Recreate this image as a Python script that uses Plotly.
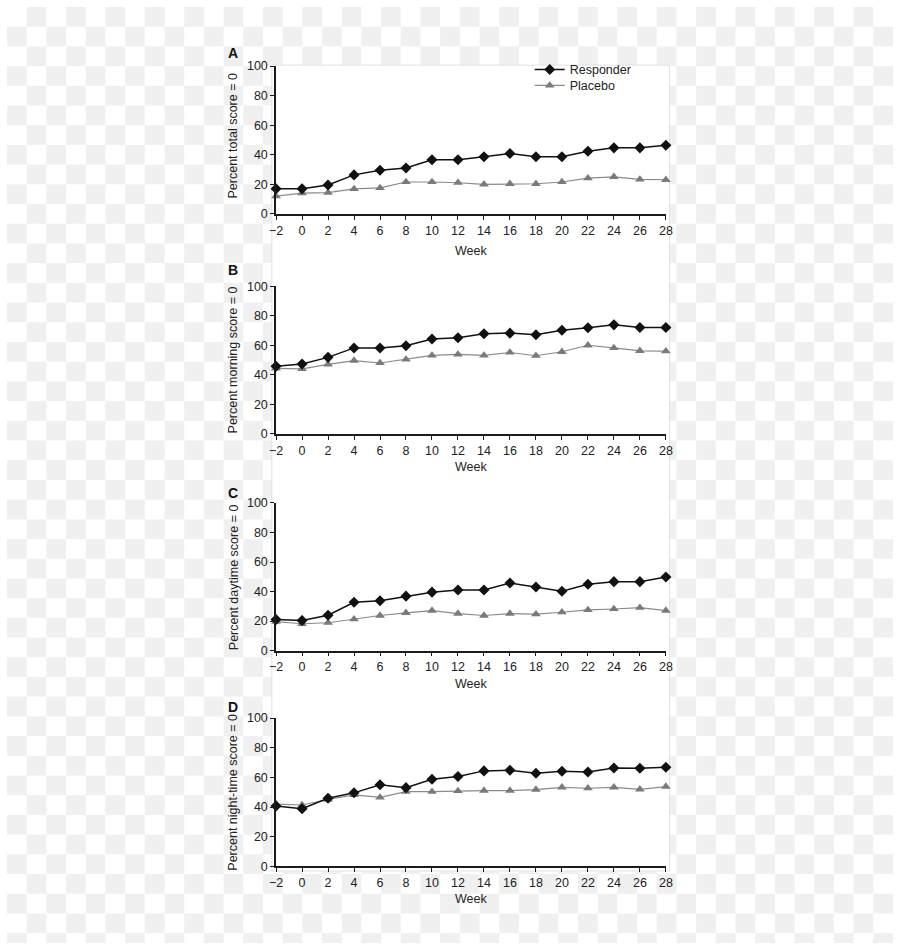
import base64
import plotly.graph_objects as go

# ---------------- data ----------------
weeks = [-2, 0, 2, 4, 6, 8, 10, 12, 14, 16, 18, 20, 22, 24, 26, 28]

total_responder = [17, 17, 19.6, 26.4, 29.6, 31.1, 36.7, 36.7, 38.7, 40.9, 38.7, 38.7, 42.4, 44.7, 44.7, 46.4]
total_placebo = [12, 14, 14.4, 16.9, 17.6, 21.6, 21.6, 21.1, 20, 20.4, 20.4, 21.6, 24.2, 25.1, 23.3, 23.1]

morning_responder = [45.8, 47.3, 51.8, 58.2, 58.2, 59.6, 64.2, 65.1, 67.8, 68.2, 67.1, 70.2, 71.8, 73.8, 72, 72]
morning_placebo = [44.4, 44, 47.1, 49.6, 48, 50.4, 53.1, 53.8, 53.1, 55.1, 52.9, 55.6, 60, 58.2, 56.2, 56]

daytime_responder = [21.1, 20.4, 24, 32.7, 33.8, 36.9, 39.6, 41.1, 41.1, 45.8, 43.1, 40.2, 44.9, 46.7, 46.7, 49.8]
daytime_placebo = [19.6, 18.2, 18.9, 21.3, 23.8, 25.6, 27.1, 25.1, 23.8, 25.1, 24.7, 26, 27.6, 28.2, 29.1, 27.1]

night_responder = [40.7, 38.9, 46, 49.6, 55.1, 53.1, 58.8, 60.6, 64.4, 64.8, 62.8, 64.2, 63.7, 66.4, 66.2, 66.8]
night_placebo = [42, 41.4, 45.1, 48.2, 46.5, 50.4, 50.4, 50.9, 51.1, 51.1, 51.8, 53.3, 52.7, 53.3, 52, 53.8]

panel_letters = ["A", "B", "C", "D"]
y_titles = ["Percent total score = 0", "Percent morning score = 0",
            "Percent daytime score = 0", "Percent night-time score = 0"]
series_names = ["Responder", "Placebo"]
x_title = "Week"

panels = [
    (total_responder, total_placebo),
    (morning_responder, morning_placebo),
    (daytime_responder, daytime_placebo),
    (night_responder, night_placebo),
]

# ---------------- layout geometry (pixels) ----------------
W, H = 900, 950
x_left, x_right = 273.3, 669.3
panel_px = [(60, 210), (283.3, 433.3), (503.3, 653.3), (721.7, 872.3)]  # (top, bottom)
week_y = [248, 467, 687, 905.7]
letter_y = [47, 267, 493, 710]

def px_x(p):
    return p / W

def px_y(p):
    return 1 - p / H

FONT = "Liberation Sans, Arial, Helvetica, sans-serif"
AX = "#1a1a1a"

fig = go.Figure()

for i, (resp, plac) in enumerate(panels):
    sfx = "" if i == 0 else str(i + 1)
    xa, ya = "x" + sfx, "y" + sfx
    fig.add_trace(go.Scatter(
        x=weeks, y=plac, mode="lines+markers", name=series_names[1],
        xaxis=xa, yaxis=ya, showlegend=(i == 0), legend="legend2",
        line=dict(color="#8a8a8a", width=1.2),
        marker=dict(symbol="triangle-up", size=8.5, color="#7a7a7a"),
        cliponaxis=False,
    ))
    fig.add_trace(go.Scatter(
        x=weeks, y=resp, mode="lines+markers", name=series_names[0],
        xaxis=xa, yaxis=ya, showlegend=(i == 0), legend="legend",
        line=dict(color="#111111", width=1.5),
        marker=dict(symbol="diamond", size=8.5, color="#111111"),
        cliponaxis=False,
    ))

    top, bot = panel_px[i]
    fig.update_layout(**{
        "xaxis" + sfx: dict(
            domain=[px_x(x_left), px_x(x_right)], anchor=ya,
            range=[-2, 28], tick0=-2, dtick=2, showgrid=False, zeroline=False,
            showline=True, linecolor=AX, linewidth=1.5,
            ticks="outside", ticklen=4, tickwidth=1.2, tickcolor=AX,
            tickfont=dict(family=FONT, size=12.5, color="#222"),
            fixedrange=True,
        ),
        "yaxis" + sfx: dict(
            domain=[px_y(bot), px_y(top)], anchor=xa,
            range=[0, 100], tick0=0, dtick=20, showgrid=False, zeroline=False,
            showline=True, linecolor=AX, linewidth=1.5,
            ticks="outside", ticklen=4, tickwidth=1.2, tickcolor=AX,
            tickfont=dict(family=FONT, size=12.5, color="#222"),
            fixedrange=True,
        ),
    })

    fig.add_annotation(text=y_titles[i], xref="paper", yref="paper",
                       x=px_x(230), y=px_y((top + bot) / 2 - (4 if i == 0 else 0)),
                       textangle=-90, showarrow=False,
                       font=dict(family=FONT, size=12.5, color="#222"),
                       xanchor="center", yanchor="middle")
    fig.add_annotation(text=x_title, xref="paper", yref="paper",
                       x=px_x((x_left + x_right) / 2), y=px_y(week_y[i]),
                       showarrow=False, font=dict(family=FONT, size=12.5, color="#222"),
                       xanchor="center", yanchor="middle")
    fig.add_annotation(text="<b>" + panel_letters[i] + "</b>", xref="paper", yref="paper",
                       x=px_x(230), y=px_y(letter_y[i]), showarrow=False,
                       font=dict(family=FONT, size=14, color="#111"),
                       xanchor="center", yanchor="middle")

# checkerboard (transparent-image look) background
svg = ('<svg xmlns="http://www.w3.org/2000/svg" width="900" height="950">'
       '<defs><pattern id="p" width="40" height="40" patternUnits="userSpaceOnUse">'
       '<rect width="40" height="40" fill="#ffffff"/>'
       '<rect x="20" y="0" width="20" height="20" fill="#f0f0f0"/>'
       '<rect x="0" y="20" width="20" height="20" fill="#f0f0f0"/>'
       '</pattern></defs><rect width="900" height="950" fill="url(#p)"/></svg>')
src = "data:image/svg+xml;base64," + base64.b64encode(svg.encode()).decode()

legend_common = dict(xanchor="left", yanchor="top", bgcolor="rgba(0,0,0,0)",
                     borderwidth=0, font=dict(family=FONT, size=12.5, color="#222"),
                     itemwidth=30)

fig.update_layout(
    width=W, height=H, autosize=False,
    margin=dict(l=0, r=0, t=0, b=0, pad=0),
    paper_bgcolor="white", plot_bgcolor="rgba(0,0,0,0)",
    font=dict(family=FONT, size=12.5, color="#222"),
    images=[dict(source=src, xref="paper", yref="paper", x=0, y=1,
                 sizex=1, sizey=1, sizing="stretch", xanchor="left",
                 yanchor="top", layer="below")],
    shapes=[dict(type="rect", xref="paper", yref="paper",
                 x0=px_x(269), x1=px_x(673), y0=px_y(877), y1=px_y(59),
                 fillcolor="white", line=dict(color="#e2e2e2", width=1),
                 layer="below")],
    legend=dict(x=px_x(531), y=px_y(48.5), **legend_common),
    legend2=dict(x=px_x(531), y=px_y(64.8), **legend_common),
    showlegend=True,
)

post = (
    "var s=document.createElement('style');"
    "s.innerHTML='html,body{margin:0 !important;padding:0 !important;overflow:hidden;}';"
    "document.head.appendChild(s);"
)

fig.write_html("out.html", post_script=post)
